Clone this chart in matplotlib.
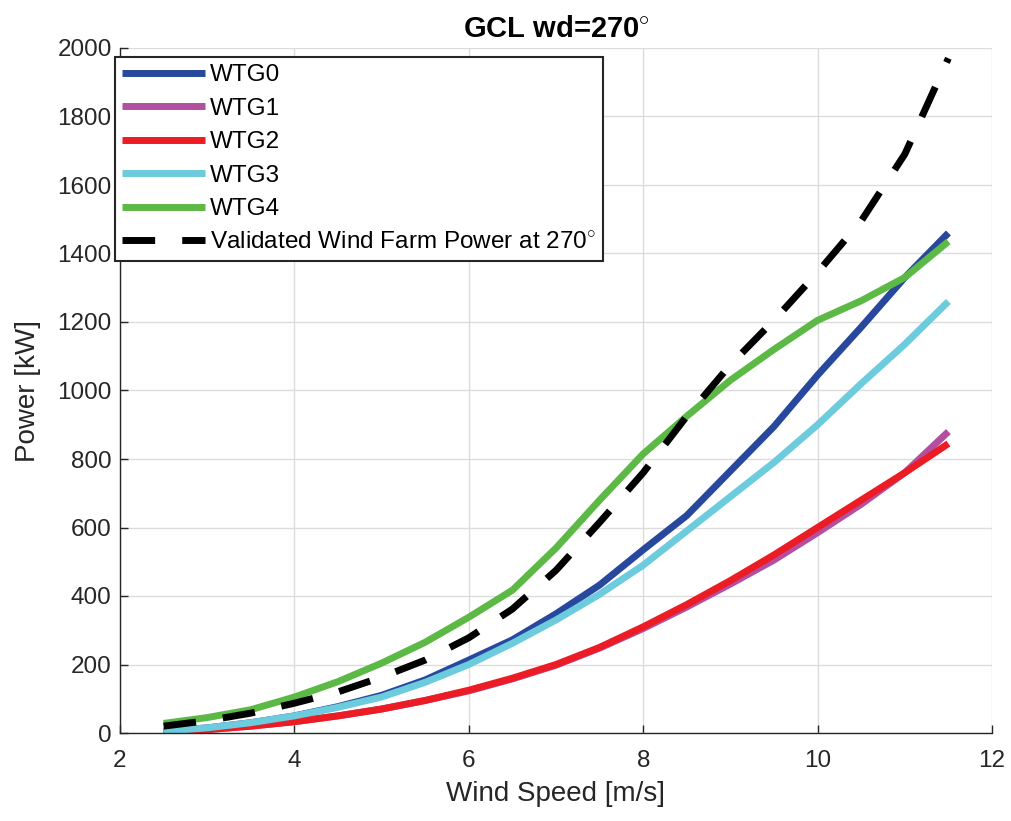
import matplotlib
matplotlib.use("Agg")
import matplotlib.pyplot as plt

plt.rcParams['font.family'] = ['Liberation Sans', 'DejaVu Sans']
plt.rcParams['mathtext.fontset'] = 'custom'
plt.rcParams['mathtext.rm'] = 'Liberation Sans'
plt.rcParams['mathtext.bf'] = 'Liberation Sans:bold'

wind_speed = [2.5, 3, 3.5, 4, 4.5, 5, 5.5, 6, 6.5, 7, 7.5, 8, 8.5, 9, 9.5, 10, 10.5, 11, 11.5]

wtg0 = [5, 15, 30, 50, 77, 110, 155, 213, 272, 348, 432, 535, 635, 765, 895, 1045, 1185, 1330, 1460]
wtg1 = [3, 10, 20, 33, 50, 70, 95, 123, 158, 198, 248, 305, 368, 435, 505, 585, 668, 760, 880]
wtg2 = [3, 10, 20, 33, 50, 70, 95, 125, 160, 200, 250, 310, 375, 445, 520, 600, 680, 760, 845]
wtg3 = [5, 15, 30, 50, 75, 105, 148, 200, 262, 330, 405, 490, 590, 690, 790, 900, 1020, 1135, 1260]
wtg4 = [28, 45, 68, 105, 150, 204, 265, 338, 417, 540, 680, 815, 925, 1030, 1120, 1205, 1262, 1330, 1435]
validated = [20, 36, 58, 87, 120, 163, 213, 278, 362, 475, 615, 760, 925, 1075, 1205, 1345, 1495, 1690, 1970]

series = [
    (wtg0, 'WTG0', '#27489c'),
    (wtg1, 'WTG1', '#b24fa0'),
    (wtg2, 'WTG2', '#ec1c24'),
    (wtg3, 'WTG3', '#6ccbdd'),
    (wtg4, 'WTG4', '#5db946'),
]

fig = plt.figure(figsize=(10.11, 8.21), dpi=100)
ax = fig.add_axes([120 / 1011, 1 - 733 / 821, (992 - 120) / 1011, (733 - 48) / 821])

lw = 5
for values, label, color in series:
    ax.plot(wind_speed, values, color=color, lw=lw, label=label, solid_capstyle='butt')
ax.plot(wind_speed, validated, color='black', lw=lw, linestyle=(0, (4.7, 3.9)),
        dash_capstyle='butt', label='Validated Wind Farm Power at 270$^{\\circ}$')

ax.set_xlim(2, 12)
ax.set_ylim(0, 2000)
ax.set_xticks([2, 4, 6, 8, 10, 12])
ax.set_yticks(range(0, 2001, 200))
ax.grid(True, color='#dcdcdc', lw=1.0)
ax.set_axisbelow(True)
ax.tick_params(direction='in', labelsize=17.5, length=6, width=1, colors='#262626',
               labelcolor='#262626', top=False, right=False)
ax.tick_params(axis='x', pad=12)
ax.tick_params(axis='y', pad=6)
for side in ('top', 'right'):
    ax.spines[side].set_visible(False)
for side in ('left', 'bottom'):
    ax.spines[side].set_color('#262626')
    ax.spines[side].set_linewidth(1.0)

ax.set_xlabel('Wind Speed [m/s]', fontsize=20, color='#262626', labelpad=7)
ax.set_ylabel('Power [kW]', fontsize=20, color='#262626', labelpad=12)
ax.set_title('GCL wd=270$^{\\circ}$', fontsize=21, fontweight='bold', pad=8)

leg = ax.legend(loc='upper left', bbox_to_anchor=(115 / 1011, 1 - 57 / 821),
                bbox_transform=fig.transFigure, borderaxespad=0, fontsize=17.5,
                handlelength=3.4, handletextpad=0.2, labelspacing=0.47,
                borderpad=0.3, fancybox=False, framealpha=1)
leg.get_frame().set_edgecolor('#262626')
leg.get_frame().set_linewidth(1.5)

fig.savefig('out.png', dpi=100)
